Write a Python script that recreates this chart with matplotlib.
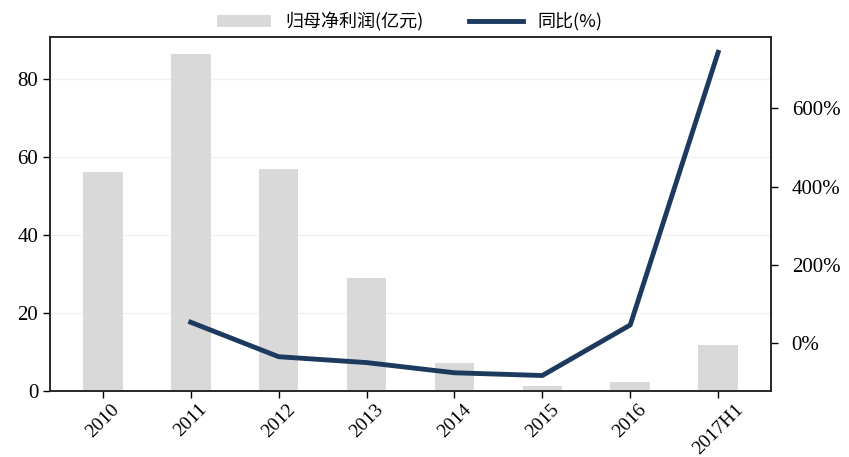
# -*- coding: utf-8 -*-
import numpy as np
import matplotlib.pyplot as plt
import matplotlib as mpl
from matplotlib.ticker import FuncFormatter

mpl.rcParams['font.family'] = ['Liberation Serif', 'Noto Sans CJK SC', 'DejaVu Sans']

years = ['2010', '2011', '2012', '2013', '2014', '2015', '2016', '2017H1']
profit = [56.2, 86.4, 56.9, 29.0, 7.2, 1.3, 2.3, 11.8]  # 归母净利润(亿元)
yoy_years = years[1:]
yoy = [54, -34, -49, -75, -82, 47, 743]  # 同比(%)

bar_color = '#d9d9d9'
line_color = '#1c3a5e'

fig = plt.figure(figsize=(8.49, 4.57), dpi=100)
ax = fig.add_axes([0.059, 0.144, 0.849, 0.775])
x = np.arange(len(years))
b = ax.bar(x, profit, width=0.45, color=bar_color, label='归母净利润(亿元)', zorder=2)
ax.set_xlim(-0.6, len(years) - 0.4)
ax.set_ylim(0, 90.8)
ax.set_yticks([0, 20, 40, 60, 80])
ax.yaxis.grid(True, color='#f0f0f0', lw=1, zorder=0)
ax.set_axisbelow(True)
ax.set_xticks(x)
ax.set_xticklabels(years, rotation=45)
ax.tick_params(axis='y', labelsize=15, direction='out', length=5, width=1)
ax.tick_params(axis='x', labelsize=14, direction='out', length=5, width=1, pad=2)

ax2 = ax.twinx()
xi = [years.index(y) for y in yoy_years]
l, = ax2.plot(xi, yoy, color=line_color, lw=3.5, label='同比(%)', zorder=3)
ax2.set_ylim(-122, 782)
ax2.set_yticks([0, 200, 400, 600])
ax2.yaxis.set_major_formatter(FuncFormatter(lambda v, p: '{:.0f}%'.format(v)))
ax2.tick_params(axis='y', labelsize=15, direction='out', length=5, width=1, pad=10)

for a in (ax, ax2):
    for s in a.spines.values():
        s.set_linewidth(1.1)
        s.set_color('#222222')

fig.legend([b, l], ['归母净利润(亿元)', '同比(%)'], loc='center', bbox_to_anchor=(0.483, 0.952),
           ncol=2, frameon=False, handlelength=3.0, columnspacing=2.5,
           prop={'family': ['Noto Sans CJK SC', 'DejaVu Sans'], 'size': 13})

fig.savefig('out.png', dpi=100)
